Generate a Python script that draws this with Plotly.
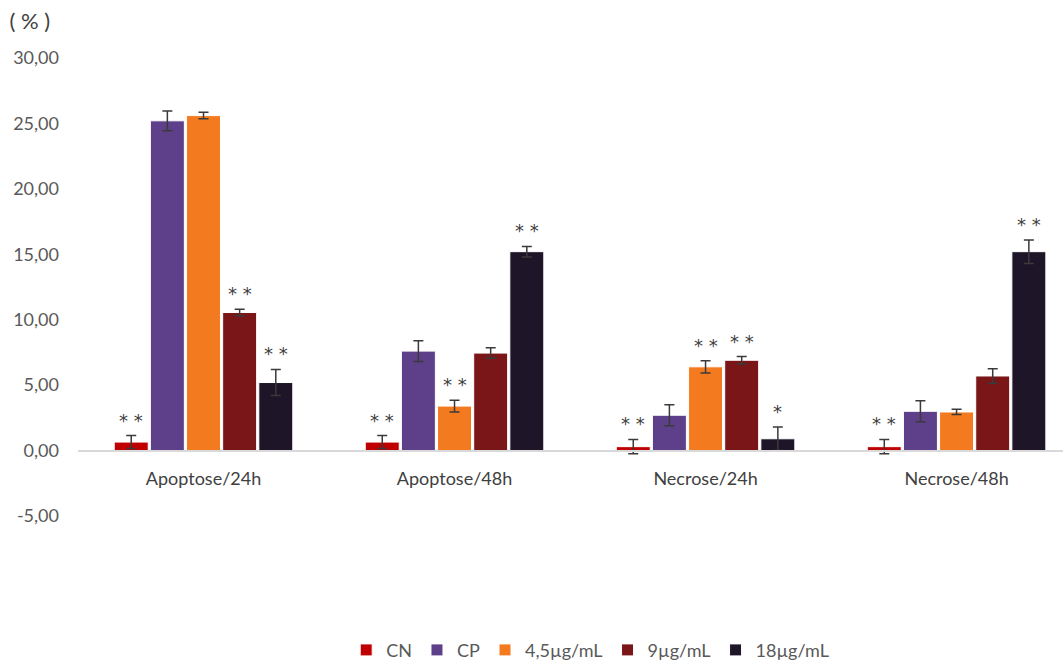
import plotly.graph_objects as go

categories = ["Apoptose/24h", "Apoptose/48h", "Necrose/24h", "Necrose/48h"]
series_names = ["CN", "CP", "4,5µg/mL", "9µg/mL", "18µg/mL"]

cn = [0.65, 0.65, 0.30, 0.30]
cp = [25.2, 7.6, 2.7, 3.0]
c45 = [25.6, 3.4, 6.4, 2.95]
c9 = [10.55, 7.45, 6.9, 5.7]
c18 = [5.2, 15.2, 0.9, 15.2]

cn_err = [0.5, 0.5, 0.55, 0.55]
cp_err = [0.75, 0.8, 0.8, 0.8]
c45_err = [0.25, 0.45, 0.47, 0.2]
c9_err = [0.25, 0.4, 0.28, 0.55]
c18_err = [1.0, 0.4, 0.9, 0.9]

cn_sig = ["**", "**", "**", "**"]
cp_sig = ["", "", "", ""]
c45_sig = ["", "**", "**", ""]
c9_sig = ["**", "", "**", ""]
c18_sig = ["**", "**", "*", "**"]

y_ticks = [-5, 0, 5, 10, 15, 20, 25, 30]
y_tick_labels = ["-5,00", "0,00", "5,00", "10,00", "15,00", "20,00", "25,00", "30,00"]

values = [cn, cp, c45, c9, c18]
errors = [cn_err, cp_err, c45_err, c9_err, c18_err]
marks = [cn_sig, cp_sig, c45_sig, c9_sig, c18_sig]
colors = ["#C00000", "#5E3F8A", "#F47A20", "#7A1618", "#1E1529"]

FONT = "Lato"
GREY = "#595959"
BARGAP = 0.28

fig = go.Figure()
for name, vals, errs, col in zip(series_names, values, errors, colors):
    fig.add_trace(go.Bar(
        x=categories, y=vals, name=name,
        marker=dict(color=col, line=dict(color="#ffffff", width=1)),
        error_y=dict(type="data", array=errs, color="#3a3a3a", thickness=1.5, width=5),
    ))

fig.update_layout(barmode="group", bargap=BARGAP, bargroupgap=0.06)

# significance asterisks above each error bar
n = len(series_names)
group_w = 1 - BARGAP
slot = group_w / n
annotations = []
for si, (vals, errs, sig) in enumerate(zip(values, errors, marks)):
    for ci, s in enumerate(sig):
        if not s:
            continue
        xoff = -group_w / 2 + slot * (si + 0.5)
        annotations.append(dict(
            x=ci + xoff, y=vals[ci] + errs[ci], xref="x", yref="y",
            text=" ".join(s), showarrow=False, yanchor="bottom", yshift=3,
            font=dict(family="DejaVu Sans", size=18, color="#404040"),
        ))

fig.update_layout(
    annotations=annotations,
    width=1063, height=660,
    margin=dict(l=78, r=0, t=58, b=144, autoexpand=False),
    plot_bgcolor="white", paper_bgcolor="white",
    font=dict(family=FONT, size=18, color=GREY),
    title=dict(text="( % )", x=0.009, xanchor="left", y=0.967, yanchor="middle",
               font=dict(family=FONT, size=22, color="#404040")),
    xaxis=dict(
        type="category", range=[-0.5, 3.424], anchor="free", position=5 / 35,
        showline=True, linecolor="#d9d9d9", linewidth=1.5, showgrid=False,
        ticks="", ticklabelstandoff=12,
        tickfont=dict(family=FONT, size=18, color="#404040"),
    ),
    yaxis=dict(
        range=[-5, 30], tickvals=y_ticks, ticktext=y_tick_labels,
        showgrid=False, zeroline=False, showline=False,
        ticklabelstandoff=18,
        tickfont=dict(family=FONT, size=18, color=GREY),
    ),
    legend=dict(
        orientation="h", x=0.52, xanchor="center", y=-0.293, yanchor="middle",
        font=dict(family=FONT, size=18, color=GREY), itemwidth=30,
        traceorder="normal",
    ),
)

fig.write_html("out.html")
